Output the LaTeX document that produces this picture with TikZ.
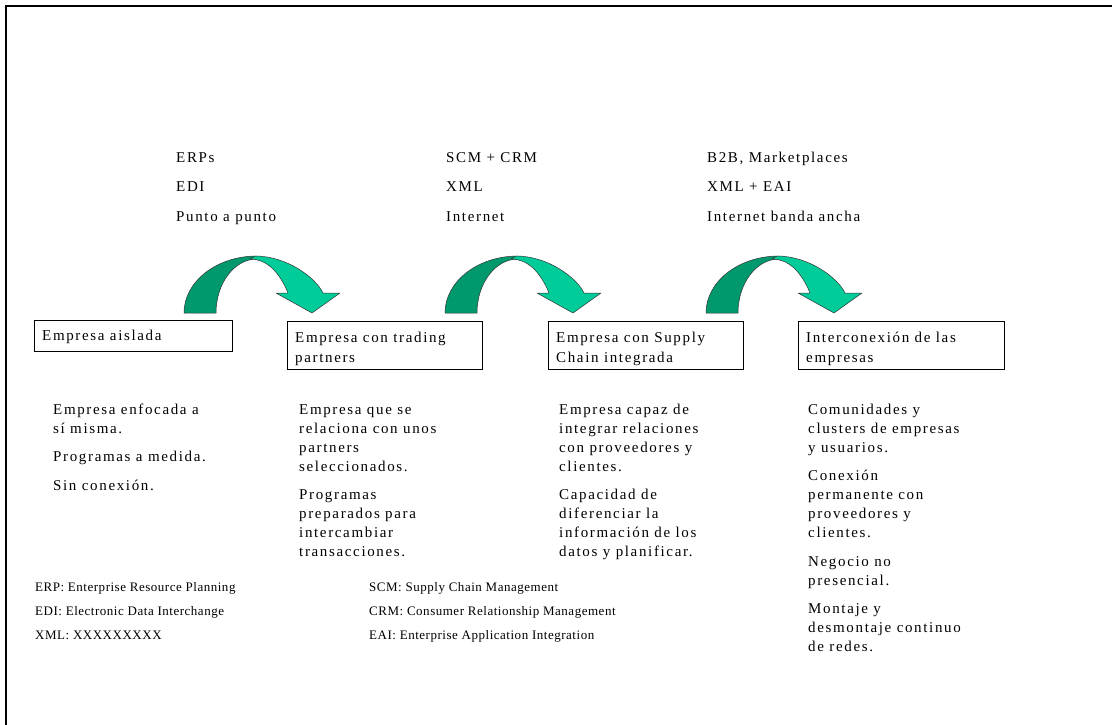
\documentclass[tikz,border=0pt]{standalone}
\usepackage{fontspec}
\setmainfont{Liberation Serif}
\newfontfamily\bodyfont{Liberation Serif}[LetterSpace=11]
\newfontfamily\legfont{Liberation Serif}[LetterSpace=4]
\usetikzlibrary{calc}
\definecolor{arrdark}{RGB}{0,153,110}
\definecolor{arrlight}{RGB}{0,204,153}
\newcommand{\fl}{\rule{0pt}{11pt}}
\begin{document}
\begin{tikzpicture}[x=1pt,y=-1pt,
  box/.style={draw, line width=0.6pt, inner sep=0pt, anchor=north west},
  btxt/.style={anchor=north west, align=left, inner sep=0pt, font=\bodyfont\fontsize{15}{20}\selectfont},
  body/.style={anchor=north west, align=left, inner sep=0pt, font=\bodyfont\fontsize{15}{19}\selectfont},
  toplab/.style={anchor=north west, align=left, inner sep=0pt, font=\bodyfont\fontsize{15}{29.5}\selectfont},
  leg/.style={anchor=north west, align=left, inner sep=0pt, font=\legfont\fontsize{13}{24}\selectfont},
  arrd/.style={fill=arrdark, draw=black!80, line width=0.5pt, line join=round},
  arrl/.style={fill=arrlight, draw=black!80, line width=0.5pt, line join=round}]
\useasboundingbox (0,0) rectangle (1112,724);
% frame
\draw[line width=2.2pt] (6.3,730) -- (6.3,6.3) -- (1120,6.3);
% top labels (first baseline 162)
\node[toplab] (l1) at (176,151) {\fl ERPs\\EDI\\Punto a punto};
\node[toplab] (l2) at (446,151) {\fl SCM + CRM\\XML\\Internet};
\node[toplab] (l3) at (707,151) {\fl B2B, Marketplaces\\XML + EAI\\Internet banda ancha};
% arrows
\foreach \dx in {0,261,522}{
  \begin{scope}[shift={(184+\dx,313)}]
    \filldraw[arrd] (0,0) .. controls (0,-31.5) and (32.7,-57) .. (73,-57) -- (73,-54)
       .. controls (50.4,-54) and (32,-29.8) .. (32,0) -- cycle;
    \filldraw[arrl] (71,-57) .. controls (103,-57) and (132,-35) .. (139,-20) -- (156,-20)
       -- (128,0) -- (92,-20) -- (104,-20) .. controls (95,-42) and (82,-54) .. (66,-54) -- cycle;
  \end{scope}
}
% boxes
\node[box, minimum width=198pt, minimum height=31pt] (b1) at (34,320) {};
\node[box, minimum width=195pt, minimum height=48.5pt] (b2) at (287,320.5) {};
\node[box, minimum width=195pt, minimum height=48.5pt] (b3) at (548,320.5) {};
\node[box, minimum width=206pt, minimum height=48.5pt] (b4) at (798,320.5) {};
\node[btxt] (t1) at ($(b1.north west)+(8,9.5)$) {\fl Empresa aislada};
\node[btxt] (t2) at ($(b2.north west)+(8,10.5)$) {\fl Empresa con trading\\partners};
\node[btxt] (t3) at ($(b3.north west)+(8,10.5)$) {\fl Empresa con Supply\\Chain integrada};
\node[btxt] (t4) at ($(b4.north west)+(8,10.5)$) {\fl Interconexión de las\\empresas};
% descriptions (first baseline 414)
\node[body] (d1) at (53,403) {\fl Empresa enfocada a\\sí misma.\\[9.5pt]Programas a medida.\\[9.5pt]Sin conexión.};
\node[body] (d2) at (299,403) {\fl Empresa que se\\relaciona con unos\\partners\\seleccionados.\\[9.5pt]Programas\\preparados para\\intercambiar\\transacciones.};
\node[body] (d3) at (559,403) {\fl Empresa capaz de\\integrar relaciones\\con proveedores y\\clientes.\\[9.5pt]Capacidad de\\diferenciar la\\información de los\\datos y planificar.};
\node[body] (d4) at (808,403) {\fl Comunidades y\\clusters de empresas\\y usuarios.\\[9.5pt]Conexión\\permanente con\\proveedores y\\clientes.\\[9.5pt]Negocio no\\presencial.\\[9.5pt]Montaje y\\desmontaje continuo\\de redes.};
% legend (first baseline 591)
\node[leg] (g1) at (35,580) {\fl ERP: Enterprise Resource Planning\\EDI: Electronic Data Interchange\\XML: XXXXXXXXX};
\node[leg] (g2) at (369,580) {\fl SCM: Supply Chain Management\\CRM: Consumer Relationship Management\\EAI: Enterprise Application Integration};
\end{tikzpicture}
\end{document}
